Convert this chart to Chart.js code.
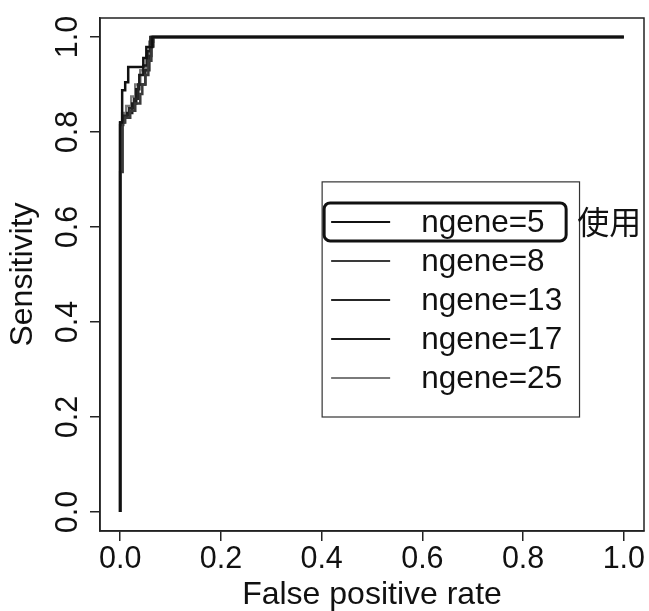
<!DOCTYPE html>
<html>
<head>
<meta charset="utf-8">
<script src="https://cdn.jsdelivr.net/npm/chart.js@4.4.1/dist/chart.umd.min.js"></script>
<style>
  html, body { margin: 0; padding: 0; background: #fff; }
</style>
</head>
<body>
<canvas id="roc" width="649" height="611"></canvas>
<script>
// ========== DATA ==========
const xTicks = [0, 0.2, 0.4, 0.6, 0.8, 1.0];
const yTicks = [0, 0.2, 0.4, 0.6, 0.8, 1.0];
const seriesLabels = ['ngene=5', 'ngene=8', 'ngene=13', 'ngene=17', 'ngene=25'];
const seriesColors = ['#111111', '#3a3a3a', '#262626', '#1c1c1c', '#7a7a7a'];

// ROC staircase corners (false positive rate, sensitivity)
const fpr5  = [0, 0, 0.004, 0.004, 0.010, 0.010, 0.016, 0.016, 0.046, 0.046, 0.052, 0.052, 0.064, 0.064, 1];
const tpr5  = [0, 0.82, 0.82, 0.888, 0.888, 0.905, 0.905, 0.937, 0.937, 0.956, 0.956, 0.979, 0.979, 1, 1];

const fpr8  = [0, 0, 0.005, 0.005, 0.010, 0.010, 0.020, 0.020, 0.030, 0.030, 0.040, 0.040, 0.044, 0.044, 0.050, 0.050, 0.056, 0.056, 0.062, 0.062, 0.066, 0.066, 1];
const tpr8  = [0, 0.716, 0.716, 0.82, 0.82, 0.83, 0.83, 0.845, 0.845, 0.86, 0.86, 0.88, 0.88, 0.90, 0.90, 0.92, 0.92, 0.95, 0.95, 0.98, 0.98, 1, 1];

const fpr13 = [0, 0, 0.008, 0.008, 0.018, 0.018, 0.028, 0.028, 0.036, 0.036, 0.050, 0.050, 0.058, 0.058, 0.062, 0.062, 1];
const tpr13 = [0, 0.82, 0.82, 0.835, 0.835, 0.85, 0.85, 0.87, 0.87, 0.90, 0.90, 0.93, 0.93, 0.96, 0.96, 1, 1];

const fpr17 = [0, 0, 0.006, 0.006, 0.014, 0.014, 0.024, 0.024, 0.032, 0.032, 0.038, 0.038, 0.046, 0.046, 0.054, 0.054, 0.060, 0.060, 1];
const tpr17 = [0, 0.815, 0.815, 0.83, 0.83, 0.84, 0.84, 0.86, 0.86, 0.89, 0.89, 0.92, 0.92, 0.94, 0.94, 0.97, 0.97, 1, 1];

const fpr25 = [0, 0, 0.004, 0.004, 0.012, 0.012, 0.022, 0.022, 0.030, 0.030, 0.040, 0.040, 0.052, 0.052, 0.058, 0.058, 0.066, 0.066, 1];
const tpr25 = [0, 0.82, 0.82, 0.84, 0.84, 0.855, 0.855, 0.875, 0.875, 0.90, 0.90, 0.93, 0.93, 0.96, 0.96, 0.99, 0.99, 1, 1];

const usedNote = '使用';

const FONT = '"Liberation Sans", Arial, sans-serif';

function toPoints(xs, ys) {
    return xs.map((x, i) => ({ x: x, y: ys[i] }));
}

const allSeries = [[fpr5, tpr5], [fpr8, tpr8], [fpr13, tpr13], [fpr17, tpr17], [fpr25, tpr25]];

// rotated y tick labels, box, legend
const rPlot = {
    id: 'rPlot',
    afterDraw(chart) {
        const ctx = chart.ctx;
        const a = chart.chartArea;
        const xs = chart.scales.x, ys = chart.scales.y;
        ctx.save();

        // box round the plot
        ctx.strokeStyle = '#222';
        ctx.lineWidth = 1.5;
        ctx.strokeRect(a.left, a.top, a.right - a.left, a.bottom - a.top);

        // y tick labels, parallel to the axis
        ctx.fillStyle = '#111';
        ctx.font = '30.5px ' + FONT;
        ctx.textAlign = 'center';
        ctx.textBaseline = 'alphabetic';
        ys.ticks.forEach(t => {
            const py = ys.getPixelForValue(t.value);
            ctx.save();
            ctx.translate(77, py);
            ctx.rotate(-Math.PI / 2);
            ctx.fillText(t.value.toFixed(1), 0, 0);
            ctx.restore();
        });

        // legend
        const lx0 = xs.getPixelForValue(0.401), lx1 = xs.getPixelForValue(0.912);
        const ly0 = ys.getPixelForValue(0.695), ly1 = ys.getPixelForValue(0.2);
        ctx.strokeStyle = '#333';
        ctx.lineWidth = 1.2;
        ctx.strokeRect(lx0, ly0, lx1 - lx0, ly1 - ly0);

        ctx.font = '31.5px ' + FONT;
        ctx.textAlign = 'left';
        ctx.textBaseline = 'middle';
        chart.data.datasets.forEach((ds, i) => {
            const ry = ly0 + 40 + i * 39;
            ctx.strokeStyle = ds.borderColor;
            ctx.lineWidth = 2;
            ctx.beginPath();
            ctx.moveTo(lx0 + 9, ry);
            ctx.lineTo(lx0 + 68, ry);
            ctx.stroke();
            ctx.fillStyle = '#111';
            ctx.fillText(ds.label, lx0 + 99, ry + 1);
        });

        // the highlighted entry
        const hy = ly0 + 40;
        ctx.strokeStyle = '#111';
        ctx.lineWidth = 3;
        ctx.beginPath();
        ctx.roundRect(lx0 + 2, hy - 19, 242, 38, 6);
        ctx.stroke();
        ctx.fillStyle = '#111';
        ctx.font = '32px "Noto Sans CJK JP", sans-serif';
        ctx.fillText(usedNote, lx0 + 255, hy);

        ctx.restore();
    }
};

const ctx = document.getElementById('roc').getContext('2d');
new Chart(ctx, {
    type: 'scatter',
    data: {
        datasets: seriesLabels.map((label, i) => ({
            label: label,
            data: toPoints(allSeries[i][0], allSeries[i][1]),
            showLine: true,
            borderColor: seriesColors[i],
            borderWidth: 2.5,
            pointRadius: 0,
            fill: false
        }))
    },
    options: {
        responsive: false,
        animation: false,
        devicePixelRatio: 1,
        layout: { padding: { top: 18, right: 5, left: 0, bottom: 0 } },
        plugins: { legend: { display: false }, tooltip: { enabled: false } },
        scales: {
            x: {
                type: 'linear',
                min: -0.04,
                max: 1.04,
                afterBuildTicks: axis => { axis.ticks = xTicks.map(v => ({ value: v })); },
                afterFit: axis => { axis.height = 80; },
                grid: { drawOnChartArea: false, drawTicks: true, tickLength: 10, color: '#222', lineWidth: 1.5 },
                border: { color: '#222', width: 1.5 },
                ticks: {
                    color: '#111',
                    padding: 0,
                    maxRotation: 0,
                    font: { family: FONT, size: 30.5 },
                    callback: v => v.toFixed(1)
                },
                title: {
                    display: true,
                    text: 'False positive rate',
                    color: '#111',
                    font: { family: FONT, size: 32, lineHeight: 1 },
                    padding: { top: 0, bottom: 0 }
                }
            },
            y: {
                type: 'linear',
                min: -0.04,
                max: 1.04,
                afterBuildTicks: axis => { axis.ticks = yTicks.map(v => ({ value: v })); },
                afterFit: axis => { axis.width = 100; },
                grid: { drawOnChartArea: false, drawTicks: true, tickLength: 10, color: '#222', lineWidth: 1.5 },
                border: { color: '#222', width: 1.5 },
                ticks: { display: false },
                title: {
                    display: true,
                    text: 'Sensitivity',
                    color: '#111',
                    font: { family: FONT, size: 32, lineHeight: 1 },
                    padding: { top: 7, bottom: 0 }
                }
            }
        }
    },
    plugins: [rPlot]
});
</script>
</body>
</html>
